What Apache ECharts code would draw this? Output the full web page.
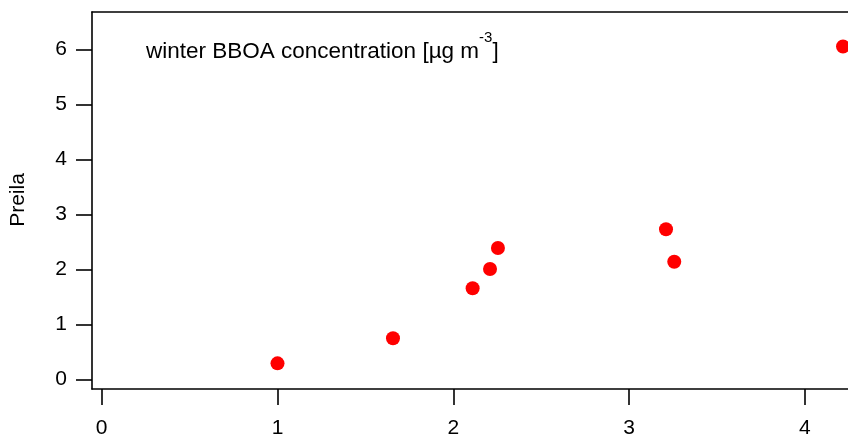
<!DOCTYPE html>
<html>
<head>
<meta charset="utf-8">
<script src="https://cdn.jsdelivr.net/npm/echarts@6/dist/echarts.min.js"></script>
<style>
html,body{margin:0;padding:0;background:#fff;}
#chart{width:848px;height:439px;}
</style>
</head>
<body>
<div id="chart"></div>
<script>
// Data
var xValues = [1.00, 1.657, 2.11, 2.209, 2.254, 3.21, 3.257, 4.217];
var yValues = [0.29, 0.745, 1.655, 2.005, 2.387, 2.727, 2.138, 6.05];
var xTicks = [0, 1, 2, 3, 4];
var yTicks = [0, 1, 2, 3, 4, 5, 6];
var yAxisTitle = 'Preila';
var annotation = 'winter BBOA concentration [µg m';
var annotationSup = '-3';

var FONT = '"Liberation Sans", Arial, sans-serif';
var points = xValues.map(function (x, i) { return [x, yValues[i]]; });

var chart = echarts.init(document.getElementById('chart'), null, {renderer: 'canvas'});
var axisLine = {show: true, onZero: false, lineStyle: {color: '#000', width: 1.6}};
chart.setOption({
  animation: false,
  backgroundColor: '#fff',
  grid: {left: 92, right: 0, top: 12, bottom: 50, containLabel: false},
  xAxis: [{
    type: 'value', min: -0.0552, max: 4.2453, position: 'bottom',
    axisLine: axisLine,
    axisTick: {show: true, length: 16, lineStyle: {color: '#000', width: 1.6}, customValues: xTicks},
    axisLabel: {color: '#000', fontSize: 21, fontFamily: FONT, margin: 29, customValues: xTicks},
    splitLine: {show: false}
  }, {
    type: 'value', min: -0.0552, max: 4.2453, position: 'top',
    axisLine: axisLine, axisTick: {show: false}, axisLabel: {show: false}, splitLine: {show: false}
  }],
  yAxis: {
    type: 'value', min: -0.1764, max: 6.678,
    axisLine: axisLine,
    axisTick: {show: true, length: 16, lineStyle: {color: '#000', width: 1.6}, customValues: yTicks},
    axisLabel: {color: '#000', fontSize: 21, fontFamily: FONT, margin: 25, customValues: yTicks},
    splitLine: {show: false}
  },
  graphic: [{
    type: 'text', left: 146, top: 30, z: 10,
    style: {
      text: '{a|' + annotation + '}{s|' + annotationSup + '}{a|]}',
      rich: {
        a: {fontSize: 22.5, fontFamily: FONT, fill: '#000', verticalAlign: 'bottom', lineHeight: 33},
        s: {fontSize: 15, fontFamily: FONT, fill: '#000', verticalAlign: 'top', lineHeight: 15}
      }
    }
  }, {
    type: 'text', x: 18, y: 200, rotation: Math.PI / 2, z: 10,
    style: {text: yAxisTitle, fontSize: 21, fontFamily: FONT, fill: '#000', align: 'center', verticalAlign: 'middle'}
  }],
  series: [{
    type: 'scatter', data: points, symbol: 'circle', symbolSize: 14,
    itemStyle: {color: '#ff0000', opacity: 1}, clip: false
  }]
});
</script>
</body>
</html>
